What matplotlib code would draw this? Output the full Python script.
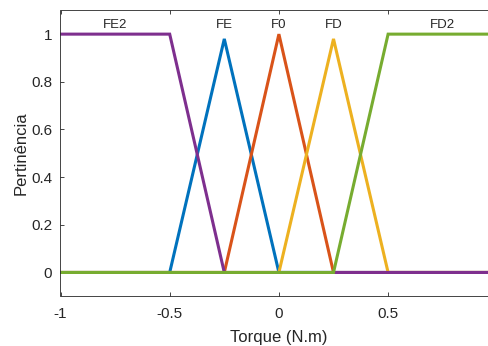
import matplotlib

matplotlib.use("Agg")
import matplotlib.pyplot as plt

plt.rcParams["font.family"] = ["Liberation Sans", "DejaVu Sans"]

# membership functions (torque in N.m), drawn in MATLAB colour order
mf_names = ["FE", "F0", "FD", "FE2", "FD2"]
mf_x = [
    [-1.0, -0.5, -0.25, 0.0, 1.0],
    [-1.0, -0.25, 0.0, 0.25, 1.0],
    [-1.0, 0.0, 0.25, 0.5, 1.0],
    [-1.0, -0.5, -0.25, 1.0],
    [-1.0, 0.25, 0.5, 1.0],
]
mf_y = [
    [0, 0, 0.98, 0, 0],
    [0, 0, 1.0, 0, 0],
    [0, 0, 0.98, 0, 0],
    [1, 1, 0, 0],
    [0, 0, 1, 1],
]
label_x = [-0.25, 0.0, 0.25, -0.75, 0.75]
colors = ["#0072BD", "#D95319", "#EDB120", "#7E2F8E", "#77AC30"]

x_ticks = [-1, -0.5, 0, 0.5]
x_ticklabels = ["-1", "-0.5", "0", "0.5"]
y_ticks = [0, 0.2, 0.4, 0.6, 0.8, 1]
y_ticklabels = ["0", "0.2", "0.4", "0.6", "0.8", "1"]

fig = plt.figure(figsize=(4.89, 3.46), dpi=100)
W, H = 489, 346
left, right, top, bottom = 60.5, 497.3, 10.3, 296.3
ax = fig.add_axes([left / W, 1 - bottom / H, (right - left) / W, (bottom - top) / H])

for xs, ys, c in zip(mf_x, mf_y, colors):
    ax.plot(xs, ys, color=c, linewidth=2.2, solid_joinstyle="miter")

for name, lx in zip(mf_names, label_x):
    ax.text(lx, 1.04, name, ha="center", va="center", fontsize=9.5, color="#262626")

ax.set_xlim(-1, 1)
ax.set_ylim(-0.1, 1.1)
ax.set_xticks(x_ticks)
ax.set_xticklabels(x_ticklabels)
ax.set_yticks(y_ticks)
ax.set_yticklabels(y_ticklabels)
ax.tick_params(direction="in", top=True, right=False, labelsize=11,
               colors="#262626", length=3, width=0.6, pad=8)
ax.tick_params(axis="y", pad=6)
for s in ["left", "bottom", "top"]:
    ax.spines[s].set_color("#262626")
    ax.spines[s].set_linewidth(0.6)
ax.spines["right"].set_visible(False)

ax.set_xlabel("Torque (N.m)", fontsize=12, color="#262626", labelpad=6)
ax.set_ylabel("Pertinência", fontsize=12, color="#262626", labelpad=2)

fig.savefig("out.png", dpi=100)
